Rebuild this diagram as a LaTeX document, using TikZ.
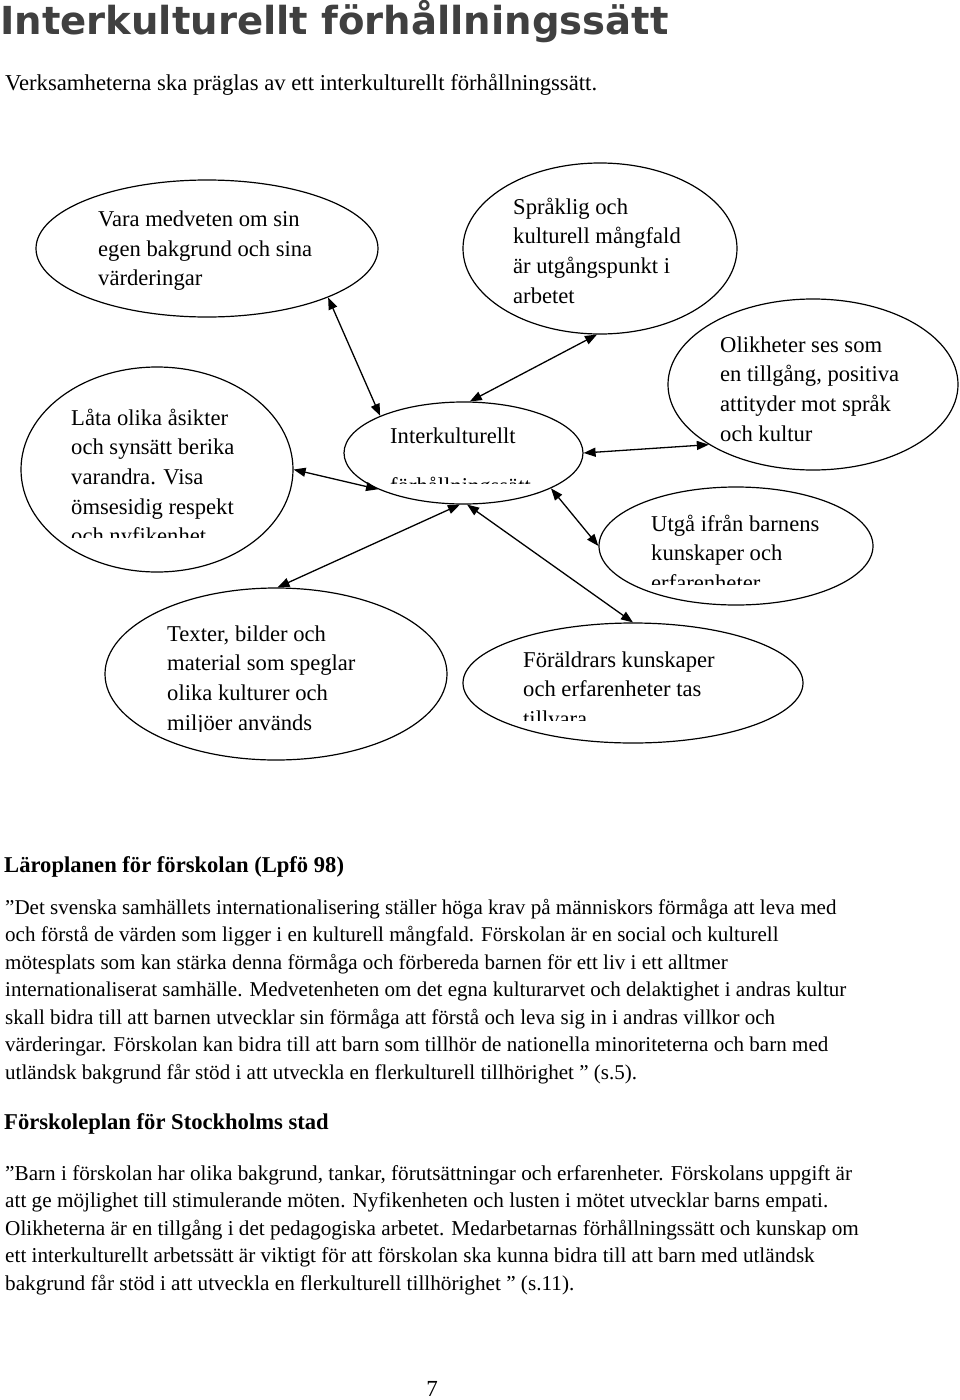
\documentclass[tikz,border=0pt]{standalone}
\usepackage{fontspec}
\setmainfont{Liberation Serif}
\newfontfamily\rubrikfont{DejaVu Sans}
\usetikzlibrary{shapes.geometric,arrows.meta}
\definecolor{titelgra}{RGB}{64,64,64}

\tikzset{
    oval/.style={ellipse, draw, line width=1.2pt, inner sep=0pt},
    ovaltext/.style={anchor=base west, align=left, inner sep=0pt, font=\fontsize{22.6}{29.7}\selectfont},
    pil/.style={{Triangle[length=12pt,width=9pt]}-{Triangle[length=12pt,width=9pt]}, line width=1.3pt},
    rubrik/.style={anchor=base west, inner sep=0pt, font=\bfseries\fontsize{22.6}{27}\selectfont},
    brodtext/.style={anchor=base west, align=left, inner sep=0pt, font=\fontsize{21.05}{27.5}\selectfont}
}

\begin{document}
\begin{tikzpicture}[x=1pt, y=-1pt]
    \useasboundingbox (0,0) rectangle (960,1400);
    \path node[anchor=base west, inner sep=0pt, text=titelgra, font=\rubrikfont\bfseries\fontsize{38.6}{42}\selectfont] (titel) at (0,34) {Interkulturellt förhållningssätt}
        node[anchor=base west, inner sep=0pt, font=\fontsize{22.7}{27}\selectfont] (intro) at (5,90) {Verksamheterna ska präglas av ett interkulturellt förhållningssätt.};
    \path node[oval, minimum width=342pt, minimum height=137pt] (VM) at (207,248.5) {}
        node[oval, minimum width=274pt, minimum height=171pt] (SM) at (600,248.5) {}
        node[oval, minimum width=272pt, minimum height=205pt] (LA) at (157,469.5) {}
        node[oval, minimum width=239pt, minimum height=102pt] (IF) at (463.5,453) {}
        node[oval, minimum width=290pt, minimum height=171pt] (OT) at (813,384.5) {}
        node[oval, minimum width=274pt, minimum height=118pt] (UB) at (736,546) {}
        node[oval, minimum width=342pt, minimum height=172pt] (TB) at (276,674) {}
        node[oval, minimum width=340pt, minimum height=120pt] (FK) at (633,683) {};
    % textens ankare ligger på sista radens baslinje
    \path node[ovaltext] (VMtext) at (98,285.9) {Vara medveten om sin\\egen bakgrund och sina\\värderingar}
        node[ovaltext] (SMtext) at (513,303.1) {Språklig och\\kulturell mångfald\\är utgångspunkt i\\arbetet}
        node[ovaltext] (OTtext) at (720,441.1) {Olikheter ses som\\en tillgång, positiva\\attityder mot språk\\och kultur};
    \begin{scope}
        \clip (0,0) rectangle (960,537);
        \node[ovaltext] (LAtext) at (71,543.8) {Låta olika åsikter\\och synsätt berika\\varandra. Visa\\ömsesidig respekt\\och nyfikenhet};
    \end{scope}
    \begin{scope}
        \clip (0,0) rectangle (960,483);
        \node[ovaltext, font=\fontsize{22.6}{50}\selectfont] (IFtext) at (390,493) {Interkulturellt\\förhållningssätt};
    \end{scope}
    \begin{scope}
        \clip (0,0) rectangle (960,584);
        \node[ovaltext] (UBtext) at (651,590.4) {Utgå ifrån barnens\\kunskaper och\\erfarenheter};
    \end{scope}
    \begin{scope}
        \clip (0,0) rectangle (960,731);
        \node[ovaltext] (TBtext) at (167,730.1) {Texter, bilder och\\material som speglar\\olika kulturer och\\miljöer används};
    \end{scope}
    \begin{scope}
        \clip (0,0) rectangle (960,720);
        \node[ovaltext] (FKtext) at (523,726.4) {Föräldrars kunskaper\\och erfarenheter tas\\tillvara};
    \end{scope}
    \draw[pil] (VM.-22) -- (IF.156);
    \draw[pil] (SM.-92) -- (IF.83);
    \draw[pil] (LA.0) -- (IF.-157);
    \draw[pil] (OT.210) -- (IF.0);
    \draw[pil] (UB.180) -- (IF.-22);
    \draw[pil] (TB.89) -- (IF.-94);
    \draw[pil] (FK.90) -- (IF.-86);
    \path node[rubrik] (LP) at (4,872) {Läroplanen för förskolan (Lpfö 98)}
        node[brodtext] (LPcitat) at (5,1079) {”Det svenska samhällets internationalisering ställer höga krav på människors förmåga att leva med\\och förstå de värden som ligger i en kulturell mångfald. Förskolan är en social och kulturell\\mötesplats som kan stärka denna förmåga och förbereda barnen för ett liv i ett alltmer\\internationaliserat samhälle. Medvetenheten om det egna kulturarvet och delaktighet i andras kultur\\skall bidra till att barnen utvecklar sin förmåga att förstå och leva sig in i andras villkor och\\värderingar. Förskolan kan bidra till att barn som tillhör de nationella minoriteterna och barn med\\utländsk bakgrund får stöd i att utveckla en flerkulturell tillhörighet ” (s.5).}
        node[rubrik] (SP) at (4,1129) {Förskoleplan för Stockholms stad}
        node[brodtext, font=\fontsize{21.2}{27.5}\selectfont] (SPcitat) at (5,1290) {”Barn i förskolan har olika bakgrund, tankar, förutsättningar och erfarenheter. Förskolans uppgift är\\att ge möjlighet till stimulerande möten. Nyfikenheten och lusten i mötet utvecklar barns empati.\\Olikheterna är en tillgång i det pedagogiska arbetet. Medarbetarnas förhållningssätt och kunskap om\\ett interkulturellt arbetssätt är viktigt för att förskolan ska kunna bidra till att barn med utländsk\\bakgrund får stöd i att utveckla en flerkulturell tillhörighet ” (s.11).}
        node[anchor=base, inner sep=0pt, font=\fontsize{23}{27}\selectfont] (sida) at (432,1396) {7};
\end{tikzpicture}
\end{document}
